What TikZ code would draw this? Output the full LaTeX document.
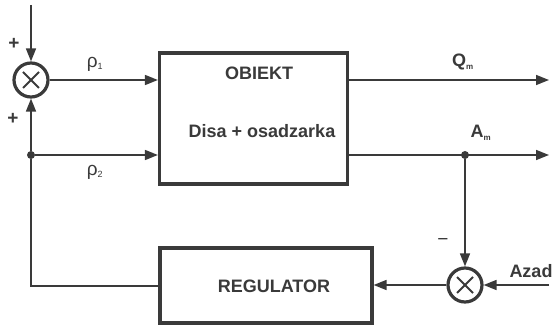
\documentclass[tikz,border=0pt]{standalone}
\usepackage{fontspec}
\setmainfont{Liberation Sans}
\usetikzlibrary{arrows.meta,calc}
\definecolor{ink}{HTML}{3A3A3A}
\tikzset{
  sig/.style={draw=ink, line width=1.6pt},
  sigarrow/.style={sig, -{Triangle[length=13pt,width=10pt]}},
  block/.style={draw=ink, line width=3.2pt, fill=white, inner sep=0pt},
  summer/.style={draw=ink, line width=3.2pt, circle, minimum size=34pt, inner sep=0pt},
  lbl/.style={text=ink, font=\bfseries\fontsize{18}{20}\selectfont, inner sep=0pt},
  sym/.style={text=ink, font=\fontsize{19}{21}\selectfont, inner sep=0pt},
  dot/.style={circle, fill=ink, minimum size=8pt, inner sep=0pt}
}
\begin{document}
\begin{tikzpicture}[x=1pt, y=-1pt]
\useasboundingbox (0,0) rectangle (555,326);

% blocks
\node[block, minimum width=188pt, minimum height=131pt] (obj) at (253.5,118.5) {};
\node[lbl] (objt) at (259,73) {OBIEKT};
\node[lbl] (objd) at (262,131) {Disa + osadzarka};
\node[block, minimum width=212pt, minimum height=75pt] (reg) at (266,285.5) {};
\node[lbl] (regt) at (274,286) {REGULATOR};

% summing junctions
\node[summer] (s1) at (31,80) {};
\node[summer] (s2) at (465,285) {};
\foreach \s in {s1,s2}{
  \draw[ink, line width=2pt] ($(\s)+(-8,-8)$) -- ($(\s)+(8,8)$);
  \draw[ink, line width=2pt] ($(\s)+(-8,8)$) -- ($(\s)+(8,-8)$);
}

% junction points and free ends
\coordinate (in1) at (31,5);
\node[dot] (d1) at (31,155) {};
\coordinate (fbc) at (31,286);
\node[dot] (d2) at (465,155) {};
\coordinate (qout) at (549,80);
\coordinate (aout) at (549,155);
\coordinate (azin) at (549,285);

% connections
\draw[sigarrow] (in1) -- (s1.north);
\draw[sigarrow] (s1.east) -- (s1.east -| obj.west);
\draw[sigarrow] (d1) -- (d1 -| obj.west);
\draw[sigarrow] (obj.east |- qout) -- (qout);
\draw[sigarrow] (obj.east |- aout) -- (aout);
\draw[sigarrow] (d2) -- (s2.north);
\draw[sigarrow] (azin) -- (s2.east);
\draw[sigarrow] (s2.west) -- (s2.west -| reg.east);
\draw[sig] (reg.west |- fbc) -- (fbc) -- (d1);
\draw[sigarrow] (d1) -- (s1.south);

% labels
\node[sym] (pl1) at (14,44) {\bfseries +};
\node[sym] (pl2) at (13,119) {\bfseries +};
\node[sym] (mn) at (443,242) {−};
\node[sym] (r1) at (95,64) {ρ\textsubscript{\fontsize{9}{10}\selectfont 1}};
\node[sym] (r2) at (95,172) {ρ\textsubscript{\fontsize{9}{10}\selectfont 2}};
\node[lbl] (qm) at (463,62) {Q\textsubscript{\fontsize{8}{9}\selectfont m}};
\node[lbl] (am) at (481,133) {A\textsubscript{\fontsize{8}{9}\selectfont m}};
\node[lbl] (az) at (531,271) {Azad};
\end{tikzpicture}
\end{document}
